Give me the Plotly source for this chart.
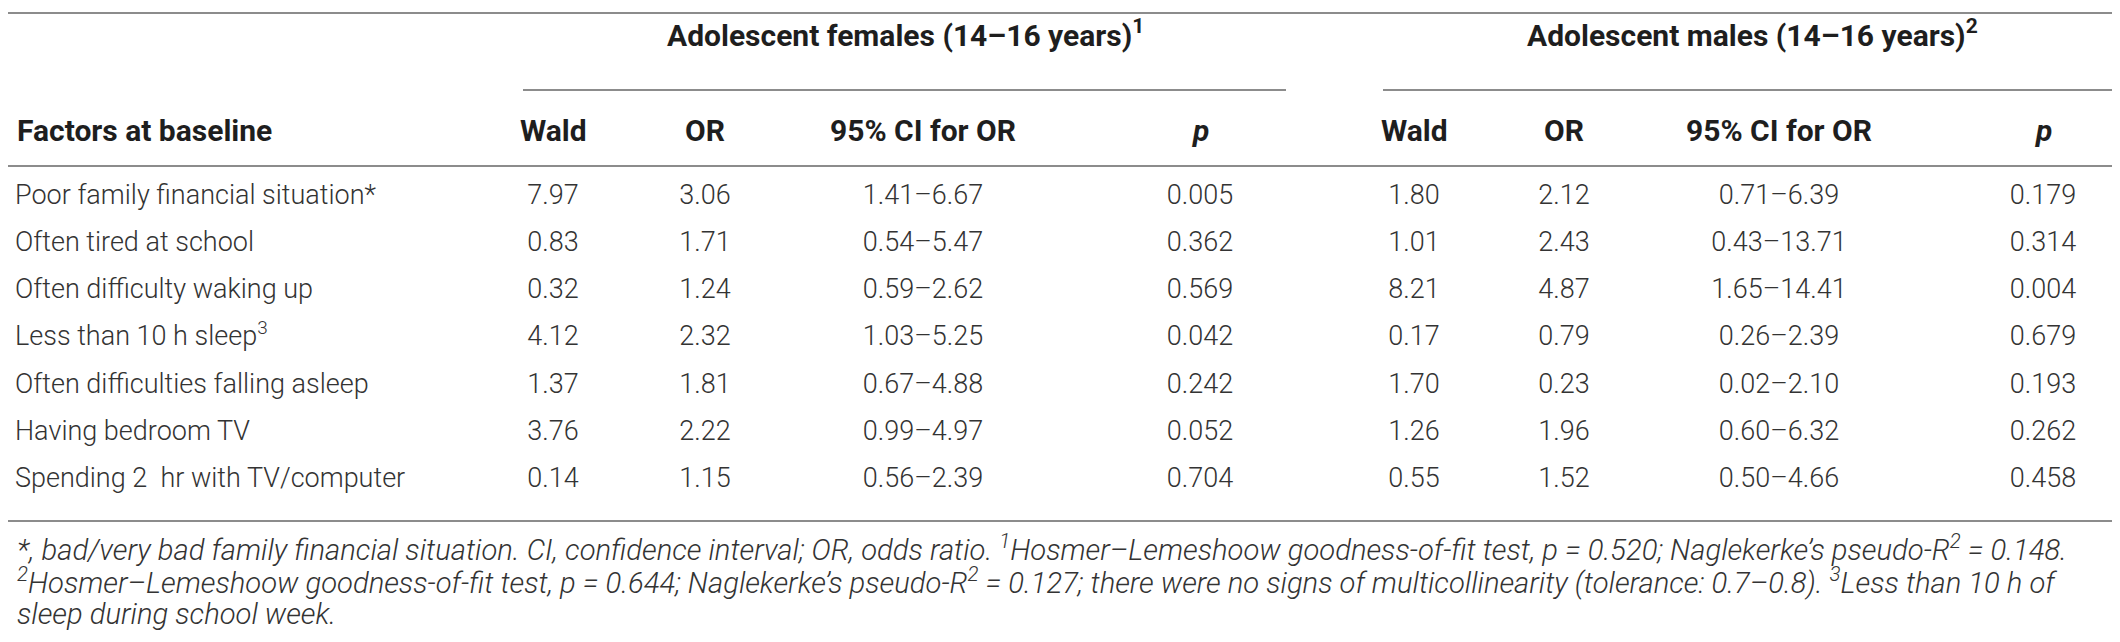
import plotly.graph_objects as go

# ========== TABLE DATA ==========
factors = [
    "Poor family financial situation*",
    "Often tired at school",
    "Often difficulty waking up",
    "Less than 10 h sleep<sup>3</sup>",
    "Often difficulties falling asleep",
    "Having bedroom TV",
    "Spending 2\u00a0\u00a0hr with TV/computer",
]

# adolescent females (14-16 years)
f_wald = [7.97, 0.83, 0.32, 4.12, 1.37, 3.76, 0.14]
f_or = [3.06, 1.71, 1.24, 2.32, 1.81, 2.22, 1.15]
f_ci_lo = [1.41, 0.54, 0.59, 1.03, 0.67, 0.99, 0.56]
f_ci_hi = [6.67, 5.47, 2.62, 5.25, 4.88, 4.97, 2.39]
f_p = [0.005, 0.362, 0.569, 0.042, 0.242, 0.052, 0.704]

# adolescent males (14-16 years)
m_wald = [1.80, 1.01, 8.21, 0.17, 1.70, 1.26, 0.55]
m_or = [2.12, 2.43, 4.87, 0.79, 0.23, 1.96, 1.52]
m_ci_lo = [0.71, 0.43, 1.65, 0.26, 0.02, 0.60, 0.50]
m_ci_hi = [6.39, 13.71, 14.41, 2.39, 2.10, 6.32, 4.66]
m_p = [0.179, 0.314, 0.004, 0.679, 0.193, 0.262, 0.458]

col_headers = ["Wald", "OR", "95% CI for OR", "<i>p</i>"]
group_headers = ["Adolescent females (14\u201316 years)<sup>1</sup>",
                 "Adolescent males (14\u201316 years)<sup>2</sup>"]

footnotes = [
    "<i>*, bad/very bad family financial situation. CI, confidence interval; OR, odds ratio. "
    "<sup>1</sup>Hosmer\u2013Lemeshoow goodness-of-fit test, p = 0.520; Naglekerke\u2019s pseudo-R<sup>2</sup> = 0.148.</i>",
    "<i><sup>2</sup>Hosmer\u2013Lemeshoow goodness-of-fit test, p = 0.644; Naglekerke\u2019s pseudo-R<sup>2</sup> = 0.127; "
    "there were no signs of multicollinearity (tolerance: 0.7\u20130.8). <sup>3</sup>Less than 10 h of</i>",
    "<i>sleep during school week.</i>",
]

# ========== LAYOUT SETTINGS ==========
W, H = 2120, 642
FONT = "Roboto"
TXT = "#333333"
HEAD = "#1e1e1e"
RULE = "#8c8c8c"
FS = 27          # body text
FS_HEAD = 30     # bold headers
FS_FOOT = 29.2   # footnotes

ROW_TOP = 189
ROW_H = 47.2
FOOT_TOP = 540
FOOT_H = 33

f_cols = [545, 697, 915, 1192]   # Wald, OR, CI, p
m_cols = [1406, 1556, 1771, 2035]


def fmt2(v):
    return f"{v:.2f}"


def ci(lo, hi):
    return [f"{a:.2f}\u2013{b:.2f}" for a, b in zip(lo, hi)]


row_y = [ROW_TOP + ROW_H * i for i in range(len(factors))]

fig = go.Figure()


def add_col(x, texts, pos="middle center"):
    fig.add_trace(go.Scatter(
        x=[x] * len(texts), y=row_y, text=texts, mode="text",
        textposition=pos, hoverinfo="skip",
        textfont=dict(family=FONT, size=FS, color=TXT, weight=300),
    ))


add_col(7, factors, "middle right")
female_cells = [[fmt2(v) for v in f_wald], [fmt2(v) for v in f_or],
                ci(f_ci_lo, f_ci_hi), [f"{v:.3f}" for v in f_p]]
male_cells = [[fmt2(v) for v in m_wald], [fmt2(v) for v in m_or],
              ci(m_ci_lo, m_ci_hi), [f"{v:.3f}" for v in m_p]]
for x, cells in zip(f_cols, female_cells):
    add_col(x, cells)
for x, cells in zip(m_cols, male_cells):
    add_col(x, cells)

bold = dict(family=FONT, size=FS_HEAD, color=HEAD, weight=700)

# header texts
fig.add_annotation(x=7, y=122, text="Factors at baseline", xanchor="left",
                   showarrow=False, font=bold)
for cols in (f_cols, m_cols):
    for x, t in zip(cols, col_headers):
        fig.add_annotation(x=x, y=122, text=t, showarrow=False, font=bold)
fig.add_annotation(x=897, y=25, text=group_headers[0], showarrow=False, font=bold)
fig.add_annotation(x=1744, y=25, text=group_headers[1], showarrow=False, font=bold)

# footnotes
for i, t in enumerate(footnotes):
    fig.add_annotation(x=7, y=FOOT_TOP + FOOT_H * i, text=t, xanchor="left",
                       showarrow=False,
                       font=dict(family=FONT, size=FS_FOOT, color=TXT, weight=300))

# horizontal rules
rules = [(0, 2113, 5), (515, 1278, 82), (1375, 2113, 82), (0, 2113, 158), (0, 2113, 513)]
for x0, x1, y in rules:
    fig.add_shape(type="line", x0=x0, x1=x1, y0=y, y1=y,
                  line=dict(color=RULE, width=2))

fig.update_xaxes(range=[0, W], visible=False)
fig.update_yaxes(range=[H, 0], visible=False)
fig.update_layout(width=W, height=H, margin=dict(l=0, r=0, t=0, b=0),
                  showlegend=False, plot_bgcolor="white", paper_bgcolor="white")

fig.write_html("out.html")
